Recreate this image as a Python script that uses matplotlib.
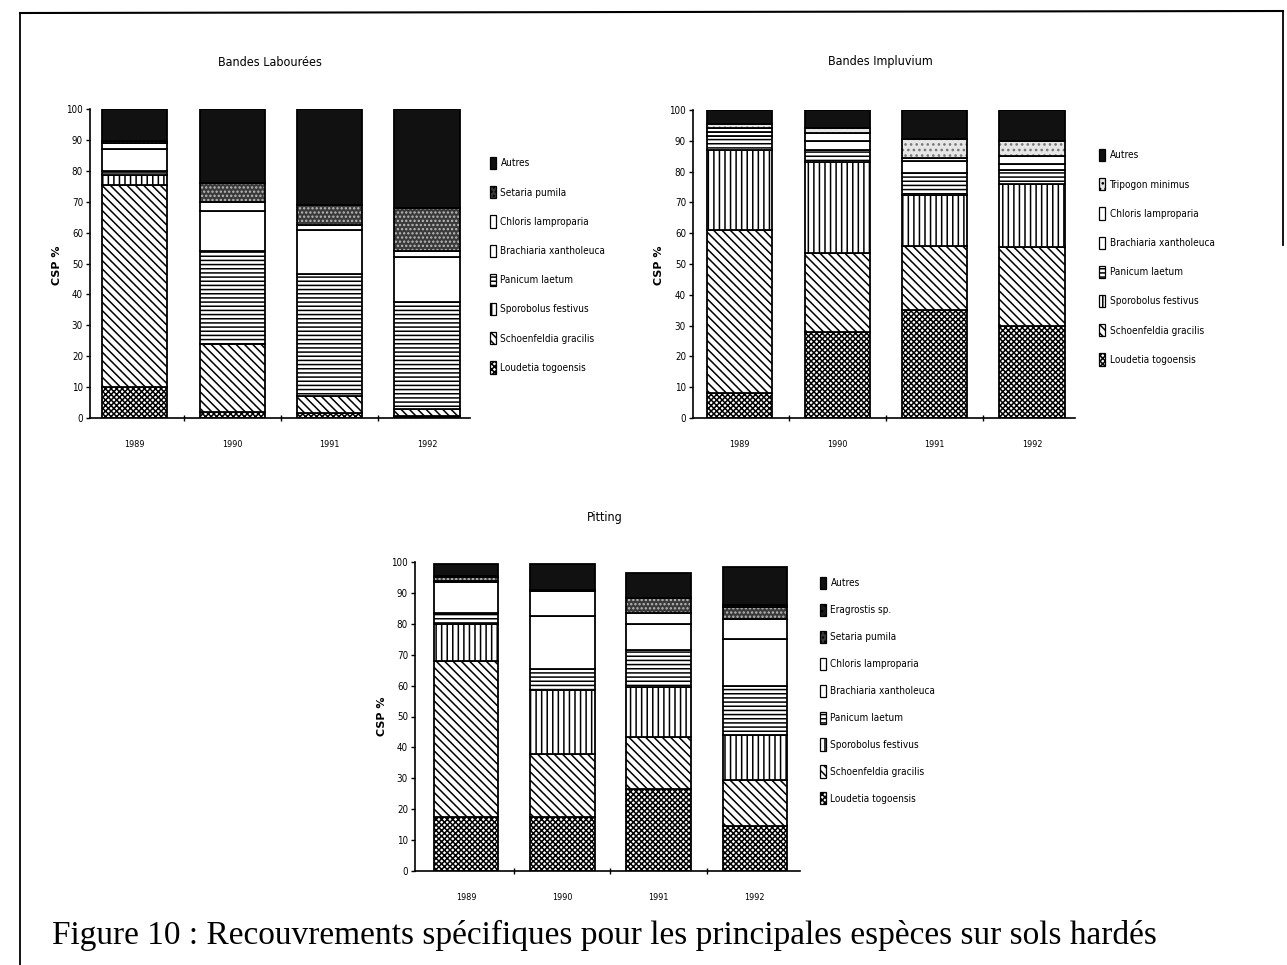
import matplotlib
matplotlib.use("Agg")
import matplotlib.pyplot as plt
from matplotlib.patches import Patch
from matplotlib.lines import Line2D
from matplotlib.font_manager import FontProperties

plt.rcParams['hatch.linewidth'] = 1.1


def narrow(size):
    return FontProperties(family='DejaVu Sans', stretch='condensed', size=size)


years = ['1989', '1990', '1991', '1992']

# Bandes Labourées (bottom -> top)
lab_loudetia = [10, 2, 1.5, 0.5]
lab_schoenfeldia = [65.5, 22, 5.5, 2.5]
lab_sporobolus = [3, 0, 0, 0]
lab_panicum = [1.5, 30, 39.5, 34.5]
lab_brachiaria = [7, 13, 14.5, 14.5]
lab_chloris = [2, 3, 1.5, 2]
lab_setaria = [0.5, 6, 6.5, 14]
lab_autres = [10.5, 24, 31, 32]

# Bandes Impluvium
imp_loudetia = [8, 28, 35, 30]
imp_schoenfeldia = [53, 25.5, 21, 25.5]
imp_sporobolus = [26, 29.5, 16.5, 20.5]
imp_panicum = [4.5, 4, 7, 4.5]
imp_brachiaria = [1.5, 3, 4, 2]
imp_chloris = [1, 2.5, 1, 2.5]
imp_tripogon = [1.5, 1.5, 6, 5]
imp_autres = [4.5, 6, 9.5, 10]

# Pitting
pit_loudetia = [17.5, 17.5, 26.5, 14.5]
pit_schoenfeldia = [50.5, 20.5, 17, 15]
pit_sporobolus = [12, 20.5, 16, 14.5]
pit_panicum = [3.5, 7, 12, 16]
pit_brachiaria = [10, 17, 8.5, 15]
pit_chloris = [0.5, 8, 3.5, 6.5]
pit_setaria = [1, 0.5, 5, 4]
pit_eragrostis = [0.5, 0, 0, 0.5]
pit_autres = [4, 8.5, 8, 12.5]

# face colour, hatch, hatch colour
styles = {
    'Loudetia togoensis': ('white', 'xxxxxx', 'black'),
    'Schoenfeldia gracilis': ('white', '\\\\\\\\', 'black'),
    'Sporobolus festivus': ('white', '|||', 'black'),
    'Panicum laetum': ('white', '----', 'black'),
    'Brachiaria xantholeuca': ('white', '', 'black'),
    'Chloris lamproparia': ('white', '', 'black'),
    'Setaria pumila': ('#3a3a3a', '....', '#bbbbbb'),
    'Tripogon minimus': ('#e6e6e6', '...', '#777777'),
    'Eragrostis sp.': ('#1a1a1a', '...', '#888888'),
    'Autres': ('#111111', '', '#111111'),
}


def draw_chart(ax, series, xlim):
    x = range(len(years))
    bottom = [0] * len(years)
    handles = []
    for name, vals in series:
        face, hatch, hcol = styles[name]
        ax.bar(x, vals, 0.67, bottom=bottom, color=face, hatch=hatch,
               edgecolor=hcol, linewidth=0)
        ax.bar(x, vals, 0.67, bottom=bottom, fill=False, edgecolor='black',
               linewidth=1.3)
        bottom = [b + v for b, v in zip(bottom, vals)]
        handles.append(Patch(facecolor=face, hatch=hatch, edgecolor='black',
                             linewidth=0.9, label=name))
    ax.set_ylim(0, 100)
    ax.set_xlim(*xlim)
    ax.spines['top'].set_visible(False)
    ax.spines['right'].set_visible(False)
    ax.spines['left'].set_linewidth(1.2)
    ax.spines['bottom'].set_linewidth(1.2)
    ax.set_yticks(range(0, 101, 10))
    ax.tick_params(axis='y', length=3, width=1, pad=2)
    for t in ax.get_yticklabels():
        t.set_fontproperties(narrow(7))
    ax.set_xticks(list(x))
    ax.set_xticklabels(years, fontproperties=narrow(6.5))
    ax.tick_params(axis='x', length=0, pad=16)
    ax.set_xticks([0.5, 1.5, 2.5], minor=True)
    ax.tick_params(axis='x', which='minor', length=4, direction='inout', width=1)
    return handles[::-1]


W, H = 1287, 965
fig = plt.figure(figsize=(W / 100, H / 100), dpi=100)


def px_axes(left, right, top, bottom):
    return fig.add_axes([left / W, (H - bottom) / H, (right - left) / W, (bottom - top) / H])


ax1 = px_axes(90, 470, 109, 418)
h1 = draw_chart(ax1, [
    ('Loudetia togoensis', lab_loudetia),
    ('Schoenfeldia gracilis', lab_schoenfeldia),
    ('Sporobolus festivus', lab_sporobolus),
    ('Panicum laetum', lab_panicum),
    ('Brachiaria xantholeuca', lab_brachiaria),
    ('Chloris lamproparia', lab_chloris),
    ('Setaria pumila', lab_setaria),
    ('Autres', lab_autres),
], (-0.46, 3.44))

ax2 = px_axes(693, 1075, 110, 418)
h2 = draw_chart(ax2, [
    ('Loudetia togoensis', imp_loudetia),
    ('Schoenfeldia gracilis', imp_schoenfeldia),
    ('Sporobolus festivus', imp_sporobolus),
    ('Panicum laetum', imp_panicum),
    ('Brachiaria xantholeuca', imp_brachiaria),
    ('Chloris lamproparia', imp_chloris),
    ('Tripogon minimus', imp_tripogon),
    ('Autres', imp_autres),
], (-0.48, 3.44))

ax3 = px_axes(415, 800, 562, 871)
h3 = draw_chart(ax3, [
    ('Loudetia togoensis', pit_loudetia),
    ('Schoenfeldia gracilis', pit_schoenfeldia),
    ('Sporobolus festivus', pit_sporobolus),
    ('Panicum laetum', pit_panicum),
    ('Brachiaria xantholeuca', pit_brachiaria),
    ('Chloris lamproparia', pit_chloris),
    ('Setaria pumila', pit_setaria),
    ('Eragrostis sp.', pit_eragrostis),
    ('Autres', pit_autres),
], (-0.53, 3.47))

for handles, (lx, ly), sp in [(h1, (490, 157), 1.7), (h2, (1099, 149), 1.7), (h3, (820, 577), 1.47)]:
    fig.legend(handles=handles, loc='upper left', bbox_to_anchor=(lx / W, 1 - ly / H),
               frameon=False, prop=narrow(7.2),
               handlelength=0.55, handleheight=1.5, handletextpad=0.5,
               labelspacing=sp, borderpad=0, borderaxespad=0)

# titles and axis labels
fig.text(270 / W, 1 - 62 / H, 'Bandes Labourées', ha='center', va='center', fontproperties=narrow(9))
fig.text(880 / W, 1 - 62 / H, 'Bandes Impluvium', ha='center', va='center', fontproperties=narrow(9))
fig.text(605 / W, 1 - 518 / H, 'Pitting', ha='center', va='center', fontproperties=narrow(9))
for x, y in [(57, 265), (659, 265), (382, 716)]:
    fig.text(x / W, 1 - y / H, 'CSP %', rotation=90, ha='center', va='center',
             fontsize=8, fontweight='bold')

fig.text(604 / W, 1 - 935 / H,
         'Figure 10 : Recouvrements spécifiques pour les principales espèces sur sols hardés',
         ha='center', va='center', fontsize=24, family=['Liberation Serif', 'DejaVu Serif'])

# page frame
fig.add_artist(Line2D([20 / W, 1283 / W], [1 - 13 / H, 1 - 11 / H], color='black', lw=1.5))
fig.add_artist(Line2D([20 / W, 20 / W], [1 - 13 / H, 0], color='black', lw=1.3))
fig.add_artist(Line2D([1283 / W, 1283 / W], [1 - 11 / H, 1 - 245 / H], color='black', lw=1.3))

fig.savefig('out.png', dpi=100)
